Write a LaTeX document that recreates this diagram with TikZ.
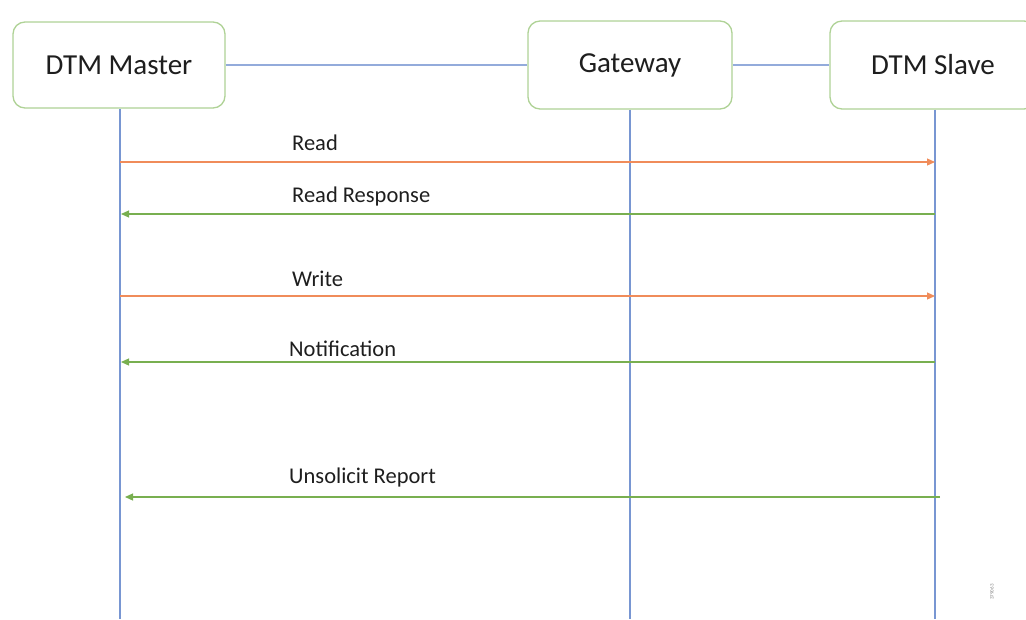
\documentclass[tikz,border=0pt]{standalone}
\usepackage{fontspec}
\setmainfont{Carlito}
\usetikzlibrary{arrows.meta}
\definecolor{boxline}{RGB}{175,210,150}
\definecolor{lifeblue}{RGB}{120,150,210}
\definecolor{msgorange}{RGB}{240,140,90}
\definecolor{msggreen}{RGB}{120,175,80}
\definecolor{txt}{RGB}{30,30,30}
\begin{document}
\begin{tikzpicture}[x=1pt,y=-1pt,
  party/.style={draw=boxline,line width=1.3pt,rounded corners=12pt,fill=white,
    text=txt,font=\fontsize{29}{33}\selectfont,inner sep=0pt},
  lifeline/.style={draw=lifeblue,line width=1.6pt},
  link/.style={draw=lifeblue!80,line width=1.2pt},
  req/.style={draw=msgorange,line width=1.2pt,-{Triangle[length=8pt,width=7pt]}},
  resp/.style={draw=msggreen,line width=1.2pt,-{Triangle[length=8pt,width=7pt]}},
  msglabel/.style={anchor=west,text=txt,inner sep=0pt,font=\fontsize{22.5}{26}\selectfont}]
\useasboundingbox (0,0) rectangle (1026,619);
\begin{scope}
\clip (0,0) rectangle (1026,619);
% participants
\node[party,minimum width=212pt,minimum height=86pt] (master) at (119,65) {DTM Master};
\node[party,minimum width=204pt,minimum height=88pt] (gw) at (630,65) {Gateway};
\node[party,minimum width=206pt,minimum height=88pt] (slave) at (933,65) {DTM Slave};
% links between participants
\draw[link] (master.east) -- (gw.west);
\draw[link] (gw.east) -- (slave.west);
% lifelines
\coordinate (mEnd) at (120,619);
\coordinate (gEnd) at (630,619);
\coordinate (sEnd) at (935,619);
\draw[lifeline] (master.south -| mEnd) -- (mEnd);
\draw[lifeline] (gw.south -| gEnd) -- (gEnd);
\draw[lifeline] (slave.south -| sEnd) -- (sEnd);
% message end points
\coordinate (m1) at (120,162); \coordinate (s1) at (935,162);
\coordinate (m2) at (121,214); \coordinate (s2) at (935,214);
\coordinate (m3) at (120,296); \coordinate (s3) at (935,296);
\coordinate (m4) at (121,362); \coordinate (s4) at (935,362);
\coordinate (m5) at (125,497); \coordinate (s5) at (940,497);
% messages
\draw[req] (m1) -- (s1);
\draw[resp] (s2) -- (m2);
\draw[req] (m3) -- (s3);
\draw[resp] (s4) -- (m4);
\draw[resp] (s5) -- (m5);
% labels
\node[msglabel] (l1) at (292,143) {Read};
\node[msglabel] (l2) at (292,196) {Read Response};
\node[msglabel] (l3) at (292,279) {Write};
\node[msglabel] (l4) at (289,349) {Notification};
\node[msglabel] (l5) at (289,477) {Unsolicit Report};
% figure number
\node[rotate=90,text=gray,font=\fontsize{5}{6}\selectfont,inner sep=0pt] (fig) at (992,592) {379063};
\end{scope}
\end{tikzpicture}
\end{document}
